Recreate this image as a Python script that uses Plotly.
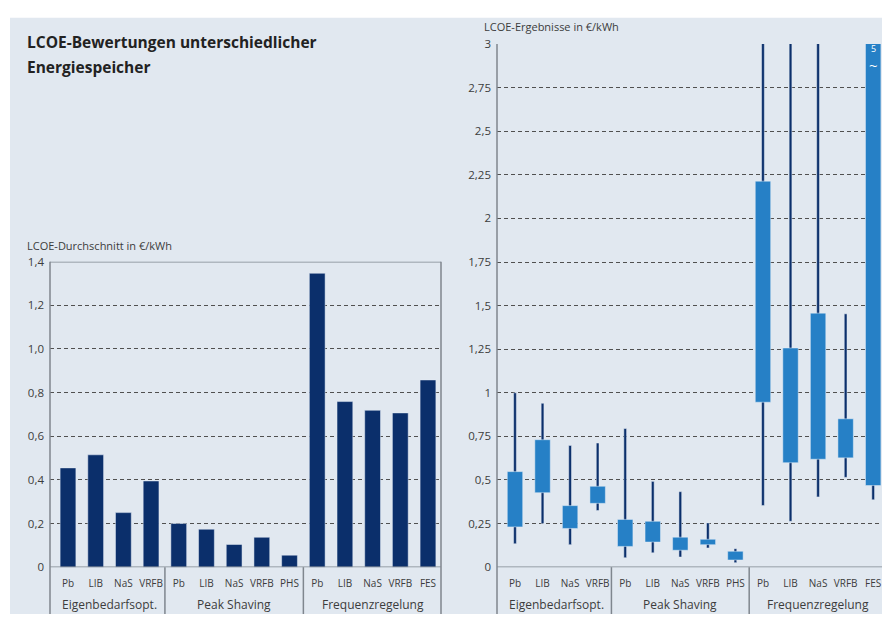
import plotly.graph_objects as go

# Technologies per use case (three groups)
techs = ['Pb', 'LIB', 'NaS', 'VRFB',
         'Pb', 'LIB', 'NaS', 'VRFB', 'PHS',
         'Pb', 'LIB', 'NaS', 'VRFB', 'FES']
groups = ['Eigenbedarfsopt.', 'Peak Shaving', 'Frequenzregelung']
group_sizes = [4, 5, 5]

# Left chart: average LCOE in EUR/kWh
lcoe_mean = [0.455, 0.515, 0.25, 0.395,
             0.20, 0.174, 0.104, 0.137, 0.055,
             1.347, 0.759, 0.719, 0.707, 0.858]

# Right chart: LCOE ranges in EUR/kWh
whisker_low = [0.134, 0.25, 0.129, 0.325,
               0.054, 0.082, 0.058, 0.11, 0.026,
               0.353, 0.263, 0.403, 0.515, 0.386]
box_low = [0.231, 0.427, 0.222, 0.366,
           0.119, 0.144, 0.097, 0.129, 0.041,
           0.946, 0.599, 0.619, 0.627, 0.468]
box_high = [0.548, 0.731, 0.353, 0.464,
            0.274, 0.263, 0.172, 0.16, 0.091,
            2.214, 1.257, 1.457, 0.851, 5.0]
whisker_high = [1.0, 0.94, 0.698, 0.712,
                0.795, 0.492, 0.433, 0.254, 0.106,
                3.4, 3.3, 3.3, 1.453, 5.0]

left_ticks = [0, 0.2, 0.4, 0.6, 0.8, 1.0, 1.2, 1.4]
left_ticktext = ['0', '0,2', '0,4', '0,6', '0,8', '1,0', '1,2', '1,4']
right_ticks = [0, 0.25, 0.5, 0.75, 1, 1.25, 1.5, 1.75, 2, 2.25, 2.5, 2.75, 3]
right_ticktext = ['0', '0,25', '0,5', '0,75', '1', '1,25', '1,5', '1,75',
                  '2', '2,25', '2,5', '2,75', '3']

NAVY = '#0b2f6b'
BLUE = '#2680c6'
BG = '#e1e8f0'
FRAME = '#7f868e'
GRID = '#505050'
TXT = '#3c3c3c'

W, H = 882, 621
pos = list(range(len(techs)))

fig = go.Figure()

# left: average bars
fig.add_trace(go.Bar(x=pos, y=lcoe_mean, width=0.57, marker_color=NAVY,
                     xaxis='x', yaxis='y', showlegend=False))

# right: whiskers then boxes on top
fig.add_trace(go.Bar(x=pos, y=[h - l for h, l in zip(whisker_high, whisker_low)],
                     base=whisker_low, width=0.1, marker_color=NAVY,
                     xaxis='x2', yaxis='y2', showlegend=False))
fig.add_trace(go.Bar(x=pos, y=[h - l for h, l in zip(box_high, box_low)],
                     base=box_low, width=0.56, marker_color=BLUE,
                     xaxis='x2', yaxis='y2', showlegend=False))

# plot areas in pixels -> paper fractions
L_x0, L_x1, L_top = 50, 441, 260
R_x0, R_x1, R_top = 497, 882, 37
BOT = 573


def px(v):
    return v / W


def py(v):
    return (H - v) / H


xaxis_common = dict(tickvals=pos, ticktext=techs, ticks='', showgrid=False,
                    zeroline=False, showline=False, ticklabelstandoff=9,
                    tickfont=dict(size=10, color=TXT), fixedrange=True)
yaxis_common = dict(ticks='', showline=False, zeroline=False, showgrid=True,
                    gridcolor=GRID, gridwidth=1, griddash='4px,3px',
                    tickfont=dict(size=11.5, color=TXT), ticklabelstandoff=5)

fig.update_layout(
    width=W, height=H,
    margin=dict(l=0, r=0, t=0, b=0),
    paper_bgcolor='white',
    plot_bgcolor='rgba(0,0,0,0)',
    barmode='overlay',
    font=dict(family='Open Sans', color=TXT),
    xaxis=dict(domain=[px(L_x0), px(L_x1)], range=[-0.65, 13.47], anchor='y',
               **xaxis_common),
    yaxis=dict(domain=[py(BOT), py(L_top)], range=[0, 1.4], anchor='x',
               tickvals=left_ticks, ticktext=left_ticktext, **yaxis_common),
    xaxis2=dict(domain=[px(R_x0), px(R_x1)], range=[-0.653, 13.32], anchor='y2',
                **xaxis_common),
    yaxis2=dict(domain=[py(BOT), py(R_top)], range=[0, 3], anchor='x2',
                tickvals=right_ticks, ticktext=right_ticktext, **yaxis_common),
)

shapes = [
    # background panel
    dict(type='rect', xref='paper', yref='paper', x0=px(10), x1=1, y0=0, y1=py(10),
         fillcolor=BG, line_width=0, layer='below'),
]
line = dict(color=FRAME, width=1.5)
shapes += [
    dict(type='line', xref='x domain', yref='paper', x0=0, x1=0, y0=0, y1=py(L_top), line=line),
    dict(type='line', xref='x domain', yref='paper', x0=1, x1=1, y0=0, y1=py(L_top), line=line),
    dict(type='line', xref='x domain', yref='y', x0=0, x1=1, y0=1.4, y1=1.4, line=line),
    dict(type='line', xref='x domain', yref='y', x0=0, x1=1, y0=0, y1=0, line=line),
    dict(type='line', xref='x2 domain', yref='paper', x0=0, x1=0, y0=0, y1=py(R_top), line=line),
    dict(type='line', xref='x2 domain', yref='y2', x0=0, x1=1, y0=0, y1=0, line=line),
]
# group dividers below the axis
edges = [sum(group_sizes[:i + 1]) - 0.5 for i in range(len(group_sizes) - 1)]
for xr in ['x', 'x2']:
    for e in edges:
        shapes.append(dict(type='line', xref=xr, yref='paper', x0=e, x1=e,
                           y0=0, y1=py(BOT), line=line))
fig.update_layout(shapes=shapes)

ann = [
    dict(text='<b>LCOE-Bewertungen unterschiedlicher</b>', x=px(25), y=py(35)),
    dict(text='<b>Energiespeicher</b>', x=px(25), y=py(60)),
]
for a in ann:
    a.update(xref='paper', yref='paper', xanchor='left', yanchor='middle',
             showarrow=False, font=dict(size=15.5, color='#222222'))
ann += [
    dict(text='LCOE-Durchschnitt in €/kWh', x=px(25), y=py(243), xref='paper', yref='paper',
         xanchor='left', yanchor='middle', showarrow=False, font=dict(size=11, color=TXT)),
    dict(text='LCOE-Ergebnisse in €/kWh', x=px(482), y=py(19), xref='paper', yref='paper',
         xanchor='left', yanchor='middle', showarrow=False, font=dict(size=11, color=TXT)),
]
# group labels
start = 0
for g, n in zip(groups, group_sizes):
    c = start + (n - 1) / 2
    for xr in ['x', 'x2']:
        ann.append(dict(text=g, x=c, xref=xr, y=py(611), yref='paper', xanchor='center',
                        yanchor='middle', showarrow=False, font=dict(size=12, color=TXT)))
    start += n
# axis break marker on FES box (true value 5)
ann += [
    dict(text='5', x=13, xref='x2', y=2.975, yref='y2', showarrow=False,
         font=dict(size=9, color='white')),
    dict(text='~', x=13, xref='x2', y=2.88, yref='y2', showarrow=False,
         font=dict(size=15, color='white')),
]
fig.update_layout(annotations=ann)

# page without margins/scrollbars so the figure fills the window exactly
page_css = """
document.documentElement.style.cssText='margin:0;padding:0;overflow:hidden';
document.body.style.cssText='margin:0;padding:0;overflow:hidden';
"""
fig.write_html('out.html', config={'displayModeBar': False}, post_script=page_css)
